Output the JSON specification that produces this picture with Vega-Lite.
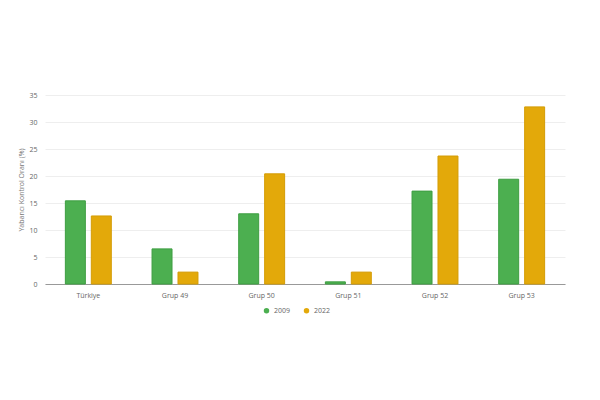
{
  "$schema": "https://vega.github.io/schema/vega-lite/v6.json",
  "width": 520,
  "height": 189,
  "autosize": {"type": "none"},
  "padding": {"left": 45, "top": 95, "right": 35, "bottom": 116},
  "background": "white",
  "config": {
    "font": "Open Sans",
    "view": {"stroke": null},
    "axis": {"labelColor": "#666", "labelFontSize": 7, "titleColor": "#777", "titleFontSize": 7, "titleFontWeight": "normal"}
  },
  "data": {
    "values": [
      {"grup": "Türkiye", "yil": "2009", "oran": 15.4},
      {"grup": "Türkiye", "yil": "2022", "oran": 12.6},
      {"grup": "Grup 49", "yil": "2009", "oran": 6.5},
      {"grup": "Grup 49", "yil": "2022", "oran": 2.2},
      {"grup": "Grup 50", "yil": "2009", "oran": 13.0},
      {"grup": "Grup 50", "yil": "2022", "oran": 20.4},
      {"grup": "Grup 51", "yil": "2009", "oran": 0.4},
      {"grup": "Grup 51", "yil": "2022", "oran": 2.2},
      {"grup": "Grup 52", "yil": "2009", "oran": 17.2},
      {"grup": "Grup 52", "yil": "2022", "oran": 23.7},
      {"grup": "Grup 53", "yil": "2009", "oran": 19.4},
      {"grup": "Grup 53", "yil": "2022", "oran": 32.8}
    ]
  },
  "mark": {"type": "bar", "strokeWidth": 1},
  "encoding": {
    "x": {
      "field": "grup", "type": "nominal", "sort": null,
      "scale": {"paddingInner": 0.47, "paddingOuter": 0.235},
      "axis": {"title": null, "labelAngle": 0, "ticks": false, "domainColor": "#999", "labelPadding": 7, "grid": false}
    },
    "xOffset": {"field": "yil", "type": "nominal", "scale": {"paddingInner": 0.23}},
    "y": {
      "field": "oran", "type": "quantitative",
      "scale": {"domain": [0, 35]},
      "axis": {"title": "Yabancı Kontrol Oranı (%)", "values": [0, 5, 10, 15, 20, 25, 30, 35], "domain": false, "ticks": false, "gridColor": "#eeeeee", "labelPadding": 8, "titlePadding": 4}
    },
    "color": {
      "field": "yil", "type": "nominal",
      "scale": {"domain": ["2009", "2022"], "range": ["#4caf50", "#e3a90a"]},
      "legend": {"title": null, "orient": "none", "legendX": 218, "legendY": 212, "direction": "horizontal", "symbolType": "circle", "symbolSize": 30, "symbolStrokeWidth": 0, "labelFontSize": 7, "labelColor": "#666", "columnPadding": 12, "labelOffset": 4}
    },
    "stroke": {
      "field": "yil", "type": "nominal",
      "scale": {"domain": ["2009", "2022"], "range": ["#3e9e42", "#d49c05"]},
      "legend": null
    }
  }
}
